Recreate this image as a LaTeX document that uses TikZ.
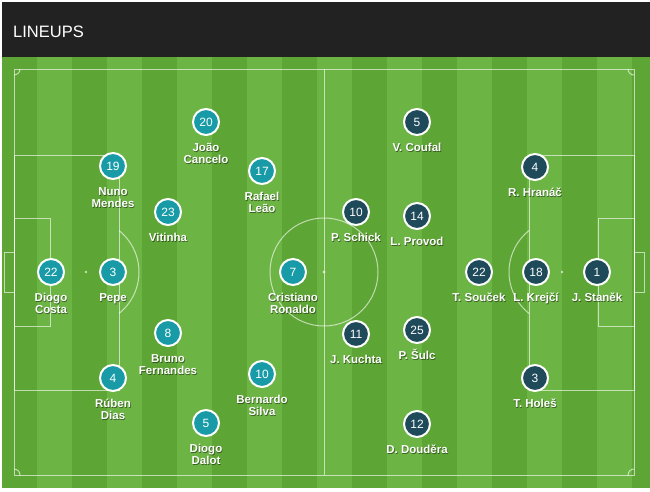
\documentclass[tikz,border=0pt]{standalone}
\usepackage{fontspec}
\setmainfont{Liberation Sans}
\definecolor{hdr}{HTML}{222222}
\definecolor{gdark}{RGB}{93,165,52}
\definecolor{glight}{RGB}{108,180,68}
\definecolor{por}{RGB}{24,155,166}
\definecolor{cze}{RGB}{31,74,90}
\newcommand\plyr[6]{%
  \node[pshad] (#1sh) at (#2+0.7,#3+18.9) {\rule{0pt}{11pt}#6};
  \node[plab] (#1t) at (#2,#3+18) {\rule{0pt}{11pt}#6};
  \node[pcirc, fill=#4] (#1) at (#2,#3) {#5};
}
\begin{document}
\begin{tikzpicture}[x=1pt,y=-1pt,
  pline/.style={draw=white, draw opacity=.62, line width=1pt},
  pspot/.style={fill=white, fill opacity=.65},
  pcirc/.style={circle, minimum size=26pt, inner sep=0pt, draw=white, line width=2pt,
    text=white, font=\fontsize{12}{12}\selectfont},
  plab/.style={anchor=north, inner sep=0pt, align=center,
    font=\fontsize{11.5}{12}\selectfont\bfseries, text=white},
  pshad/.style={plab, text=black, text opacity=.45}]
\useasboundingbox (0,0) rectangle (650,491);
\fill[white] (0,0) rectangle (650,491);
\fill[hdr] (2,2) rectangle (650,57);
\node[anchor=base west, text=white, font=\fontsize{16.5}{16.5}\selectfont, inner sep=0pt] (title) at (13,37) {LINEUPS};
% stripes
\foreach \k [evaluate=\k as \xa using 2+35*\k, evaluate=\k as \xb using {min(37+35*\k,650)}] in {0,...,18} {
  \ifodd\k \fill[glight] (\xa,57) rectangle (\xb,488); \else \fill[gdark] (\xa,57) rectangle (\xb,488); \fi
}
% pitch lines
\draw[pline] (14,69) rectangle (634,475);
\draw[pline] (324,69) -- (324,475);
\draw[pline] (324,272) circle[radius=54pt];
\draw[pline] (14,155) rectangle (119,390);
\draw[pline] (14,218) rectangle (50,326);
\draw[pline] (14,252) rectangle (4,292);
\draw[pline] (634,155) rectangle (529,390);
\draw[pline] (634,218) rectangle (598,326);
\draw[pline] (634,252) rectangle (644,292);
\begin{scope}
  \clip (119,150) rectangle (200,400);
  \draw[pline] (86,272) circle[radius=53pt];
\end{scope}
\begin{scope}
  \clip (450,150) rectangle (529,400);
  \draw[pline] (562,272) circle[radius=53pt];
\end{scope}
\begin{scope}
  \clip (14,69) rectangle (634,475);
  \draw[pline] (14,69) circle[radius=6pt];
  \draw[pline] (634,69) circle[radius=6pt];
  \draw[pline] (14,475) circle[radius=6pt];
  \draw[pline] (634,475) circle[radius=6pt];
\end{scope}
\fill[pspot] (86,272) circle[radius=1.4pt];
\fill[pspot] (562,272) circle[radius=1.4pt];
\fill[pspot] (324,272) circle[radius=1.6pt];
% Portugal
\plyr{dcosta}{51}{272}{por}{22}{Diogo\\Costa}
\plyr{pepe}{113}{272}{por}{3}{Pepe}
\plyr{nmendes}{113}{166}{por}{19}{Nuno\\Mendes}
\plyr{rdias}{113}{378}{por}{4}{Rúben\\Dias}
\plyr{jcancelo}{206}{122}{por}{20}{João\\Cancelo}
\plyr{vitinha}{168}{212}{por}{23}{Vitinha}
\plyr{bfernandes}{168}{333}{por}{8}{Bruno\\Fernandes}
\plyr{ddalot}{206}{423}{por}{5}{Diogo\\Dalot}
\plyr{rleao}{262}{171}{por}{17}{Rafael\\Leão}
\plyr{bsilva}{262}{374}{por}{10}{Bernardo\\Silva}
\plyr{cronaldo}{293}{272}{por}{7}{Cristiano\\Ronaldo}
% Czechia
\plyr{coufal}{417}{122}{cze}{5}{V. Coufal}
\plyr{schick}{356}{212}{cze}{10}{P. Schick}
\plyr{provod}{417}{216}{cze}{14}{L. Provod}
\plyr{kuchta}{356}{334}{cze}{11}{J. Kuchta}
\plyr{sulc}{417}{330}{cze}{25}{P. Šulc}
\plyr{doudera}{417}{424}{cze}{12}{D. Douděra}
\plyr{hranac}{535}{167}{cze}{4}{R. Hranáč}
\plyr{soucek}{479}{272}{cze}{22}{T. Souček}
\plyr{krejci}{536}{272}{cze}{18}{L. Krejčí}
\plyr{stanek}{597}{272}{cze}{1}{J. Staněk}
\plyr{holes}{535}{378}{cze}{3}{T. Holeš}
\end{tikzpicture}
\end{document}
